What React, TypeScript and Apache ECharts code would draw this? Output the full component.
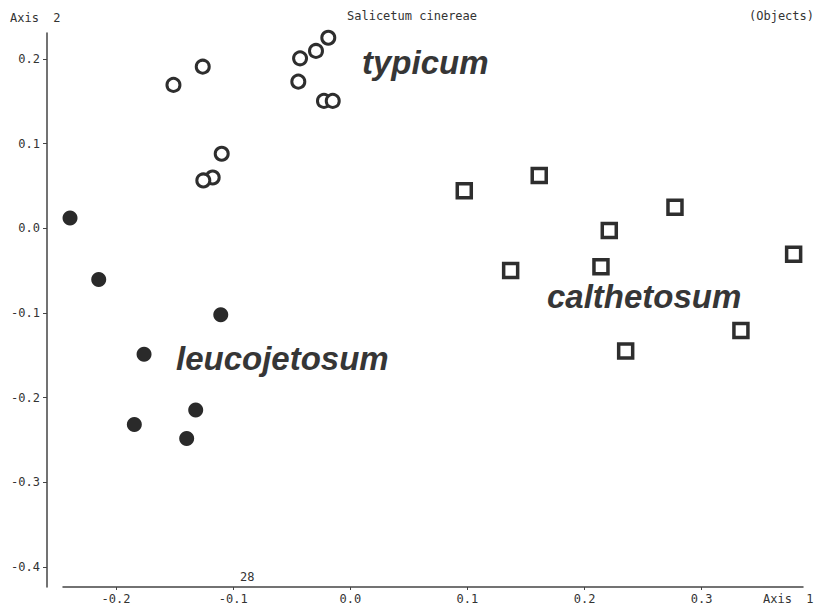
import React, { useEffect, useRef } from "react";
import * as echarts from "echarts";

const typicum: [number, number][] = [
  [-0.151, 0.1695], [-0.126, 0.191], [-0.0429, 0.2009], [-0.0293, 0.2096],
  [-0.0188, 0.2252], [-0.0444, 0.1733], [-0.0225, 0.1506], [-0.015, 0.1506],
  [-0.1098, 0.0881], [-0.1175, 0.0601], [-0.1255, 0.0566],
];
const leucojetosum: [number, number][] = [
  [-0.2393, 0.0123], [-0.2148, -0.0605], [-0.1106, -0.1021], [-0.1761, -0.1486],
  [-0.1844, -0.2318], [-0.132, -0.2146], [-0.1397, -0.2483],
];
const calthetosum: [number, number][] = [
  [0.0973, 0.0445], [0.1613, 0.0625], [0.2211, -0.0024], [0.1369, -0.0499],
  [0.214, -0.0455], [0.2351, -0.145], [0.2772, 0.0248], [0.3785, -0.0307],
  [0.3335, -0.1206],
];
const xTicks = [-0.2, -0.1, 0.0, 0.1, 0.2, 0.3];
const yTicks = [-0.4, -0.3, -0.2, -0.1, 0.0, 0.1, 0.2];
const xRange = [-0.2453, 0.3865];
const yRange = [-0.4237, 0.2308];
const title = "Salicetum cinereae";
const groupNames = ["typicum", "leucojetosum", "calthetosum"];

const MONO = "'DejaVu Sans Mono', monospace";
const INK = "#333";

export default function App() {
  const ref = useRef<HTMLDivElement>(null);
  useEffect(() => {
    if (!ref.current) return;
    const chart = echarts.init(ref.current, undefined, { renderer: "svg" });
    const fmt = (v: number) => (Math.abs(v) < 1e-9 ? "0.0" : v.toFixed(1));
    const groupStyle = {
      fill: "#363636",
      font: "italic bold 33px 'Liberation Sans', Arial, sans-serif",
      verticalAlign: "middle",
    };
    chart.setOption({
      animation: false,
      backgroundColor: "#fff",
      grid: { left: 63, right: 21, top: 33, bottom: 17 },
      xAxis: {
        type: "value",
        min: xRange[0],
        max: xRange[1],
        splitLine: { show: false },
        axisLine: { show: true, onZero: false, lineStyle: { color: "#444", width: 1.5 } },
        axisTick: { show: true, length: 3, customValues: xTicks, lineStyle: { color: "#444" } },
        axisLabel: {
          customValues: xTicks,
          formatter: fmt,
          margin: 6,
          color: INK,
          fontFamily: MONO,
          fontSize: 12,
        },
      },
      yAxis: {
        type: "value",
        min: yRange[0],
        max: yRange[1],
        offset: 16,
        splitLine: { show: false },
        axisLine: { show: true, onZero: false, lineStyle: { color: "#444", width: 1.5 } },
        axisTick: { show: true, length: 4, customValues: yTicks, lineStyle: { color: "#444" } },
        axisLabel: {
          customValues: yTicks,
          formatter: fmt,
          margin: 7,
          color: INK,
          fontFamily: MONO,
          fontSize: 12,
        },
      },
      series: [
        {
          name: groupNames[0],
          type: "scatter",
          data: typicum,
          symbol: "circle",
          symbolSize: 13,
          silent: true,
          itemStyle: { color: "#fff", borderColor: "#2e2e2e", borderWidth: 3, opacity: 1 },
        },
        {
          name: groupNames[1],
          type: "scatter",
          data: leucojetosum,
          symbol: "circle",
          symbolSize: 15,
          silent: true,
          itemStyle: { color: "#2a2a2a", opacity: 1 },
        },
        {
          name: groupNames[2],
          type: "scatter",
          data: calthetosum,
          symbol: "rect",
          symbolSize: 14,
          silent: true,
          itemStyle: { color: "#fff", borderColor: "#2e2e2e", borderWidth: 3.5, opacity: 1 },
        },
      ],
      graphic: [
        { type: "text", left: 10, top: 12, style: { text: "Axis  2", fill: INK, font: `12px ${MONO}` } },
        { type: "text", left: 347, top: 10, style: { text: title, fill: INK, font: `12px ${MONO}` } },
        { type: "text", left: 749, top: 10, style: { text: "(Objects)", fill: INK, font: `12px ${MONO}` } },
        { type: "text", left: 763, top: 593, style: { text: "Axis  1", fill: INK, font: `12px ${MONO}` } },
        { type: "text", left: 240, top: 571, style: { text: "28", fill: INK, font: `12px ${MONO}` } },
        { type: "text", x: 362, y: 62, style: { ...groupStyle, text: groupNames[0] } },
        { type: "text", x: 176, y: 358, style: { ...groupStyle, text: groupNames[1] } },
        { type: "text", x: 547, y: 296, style: { ...groupStyle, text: groupNames[2] } },
      ],
    });
    return () => chart.dispose();
  }, []);
  return (
    <div
      ref={ref}
      style={{ position: "fixed", left: 0, top: 0, width: 824, height: 605, background: "#fff" }}
    />
  );
}
